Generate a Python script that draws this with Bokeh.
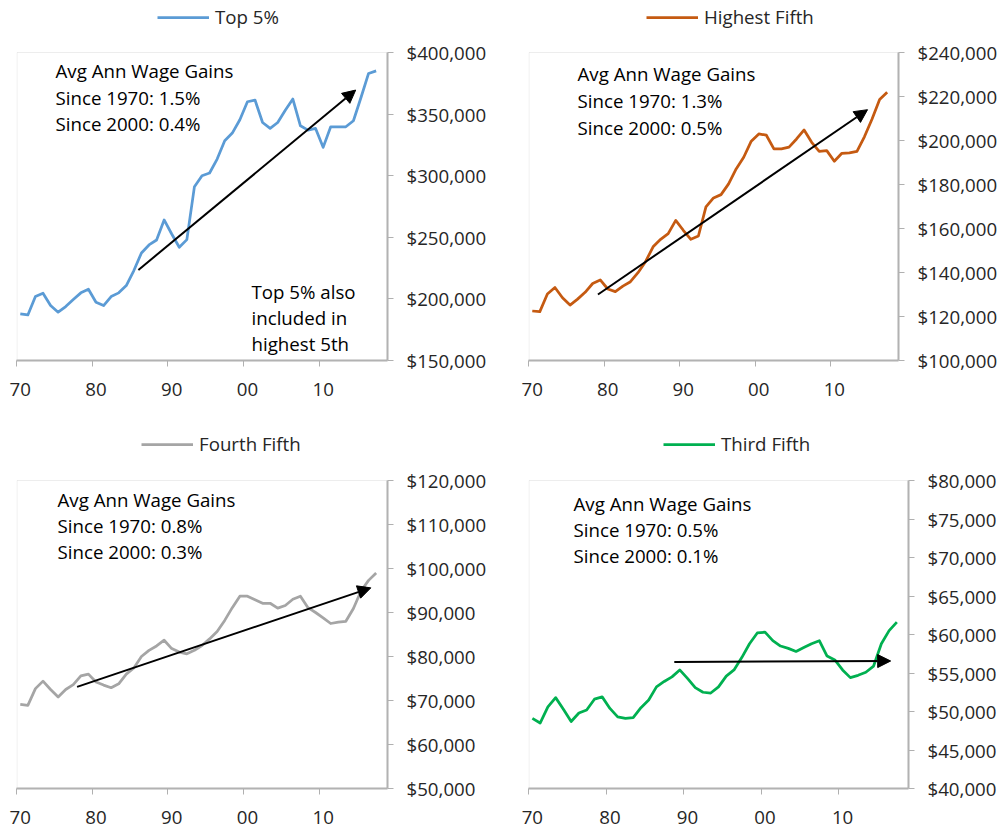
from bokeh.plotting import figure
from bokeh.layouts import column, row
from bokeh.models import (Range1d, FixedTicker, NumeralTickFormatter, Legend, LegendItem,
                          Label, Arrow, NormalHead, BoxAnnotation)
from bokeh.embed import file_html
from bokeh.resources import INLINE

# ---------------- data ----------------
years = list(range(1970, 2018))

top5 = [187800, 187000, 201900, 204600, 194600, 189200, 193800, 199500, 204900, 207800,
        197300, 194600, 201900, 204900, 210800, 223000, 237300, 243800, 247800, 264100,
        252700, 241900, 248100, 291100, 300000, 302200, 313500, 328400, 334600, 345400,
        360000, 361400, 343200, 338400, 343200, 353200, 362200, 340500, 337000, 338400,
        323000, 339700, 339700, 339700, 344600, 363500, 383000, 385100]

highest_fifth = [122500, 122200, 130200, 133200, 128500, 125200, 127900, 131000, 135000, 136600,
                 132500, 131300, 133800, 135800, 139900, 144900, 151700, 155100, 157700, 163700,
                 159200, 155100, 156600, 169800, 173900, 175400, 180300, 187100, 192400, 199700,
                 203000, 202400, 196200, 196200, 197000, 200700, 204800, 199200, 195100, 195400,
                 190600, 194200, 194400, 195100, 201800, 209800, 218600, 221900]

fourth_fifth = [69100, 68900, 72700, 74400, 72500, 70800, 72500, 73600, 75600, 76000,
                74200, 73500, 72900, 73800, 76000, 77400, 80000, 81400, 82400, 83700,
                81800, 81000, 80600, 81400, 82500, 84000, 85700, 88200, 91100, 93700,
                93700, 92900, 92100, 92100, 91000, 91600, 93000, 93700, 91100, 90000,
                88800, 87500, 87800, 88000, 90900, 94900, 97300, 99000]

third_fifth = [49100, 48500, 50600, 51800, 50300, 48700, 49800, 50200, 51600, 51900,
               50400, 49300, 49100, 49200, 50500, 51500, 53200, 53900, 54500, 55400,
               54300, 53100, 52500, 52400, 53200, 54600, 55400, 57000, 58800, 60200,
               60300, 59200, 58500, 58200, 57800, 58300, 58800, 59200, 57200, 56700,
               55400, 54400, 54700, 55100, 55900, 58800, 60500, 61600]

series_names = ["Top 5%", "Highest Fifth", "Fourth Fifth", "Third Fifth"]
series_colors = ["#5B9BD5", "#C55A11", "#A5A5A5", "#00B050"]
y_low = [150000, 100000, 50000, 40000]
y_high = [400000, 240000, 120000, 80000]
y_step = [50000, 20000, 10000, 5000]
gain_since_1970 = ["1.5%", "1.3%", "0.8%", "0.5%"]
gain_since_2000 = ["0.4%", "0.5%", "0.3%", "0.1%"]

# trend arrows (start -> tip), in data units
arrow_x0 = [1985.6, 1978.7, 1977.5, 1988.3]
arrow_y0 = [223500, 130000, 73100, 56430]
arrow_x1 = [2014.3, 2014.4, 2016.3, 2016.2]
arrow_y1 = [369500, 214000, 95600, 56560]

decade_ticks = [1970, 1980, 1990, 2000, 2010]
decade_labels = ["70", "80", "90", "00", "10"]
decade_bounds = [1969.5, 1979.5, 1989.5, 1999.5, 2009.5]

note_lines = ["Top 5% also", "included in", "highest 5th"]

FONT = "Open Sans"
FS = "18.7px"
TXT = "#262626"
AXC = "#B0B0B0"
PH = 308          # plot-area height in px


def make_panel(i, values, frame_w, b_left, b_right, head, b_bottom, leg_x, leg_cy, txt_x, txt_top):
    fh = PH + head
    span = y_high[i] - y_low[i]
    p = figure(frame_width=frame_w, frame_height=fh,
               min_border_left=b_left, min_border_right=b_right,
               min_border_top=0, min_border_bottom=b_bottom,
               x_range=Range1d(1969.5, 2018.5),
               y_range=Range1d(y_low[i], y_high[i] + span * head / PH),
               y_axis_location="right", toolbar_location=None,
               output_backend="svg")
    p.background_fill_color = "white"
    p.border_fill_color = "white"
    p.outline_line_color = None
    p.xgrid.visible = False
    p.ygrid.visible = False

    # plot-area border
    p.add_layout(BoxAnnotation(left=0.5, left_units="screen", right=2018.5,
                               bottom=y_low[i], top=y_high[i],
                               fill_alpha=0, line_color="#C4C4C4", line_width=1))

    # x axis
    xa = p.xaxis[0]
    xa.ticker = FixedTicker(ticks=decade_ticks, minor_ticks=decade_bounds)
    xa.major_label_overrides = {t: l for t, l in zip(decade_ticks, decade_labels)}
    xa.major_tick_line_color = None
    xa.minor_tick_in = 0
    xa.minor_tick_out = 6
    xa.minor_tick_line_color = AXC
    xa.minor_tick_line_width = 1
    xa.axis_line_color = AXC
    xa.axis_line_width = 2
    xa.major_label_standoff = 16
    xa.major_label_text_font = FONT
    xa.major_label_text_font_size = FS
    xa.major_label_text_color = TXT

    # y axis
    ya = p.yaxis[0]
    ya.bounds = (y_low[i], y_high[i])
    ya.ticker = FixedTicker(ticks=list(range(y_low[i], y_high[i] + 1, y_step[i])))
    ya.formatter = NumeralTickFormatter(format="$0,0")
    ya.minor_tick_line_color = None
    ya.major_tick_in = 0
    ya.major_tick_out = 6
    ya.major_tick_line_color = AXC
    ya.axis_line_color = AXC
    ya.axis_line_width = 2
    ya.major_label_standoff = 13
    ya.major_label_text_font = FONT
    ya.major_label_text_font_size = FS
    ya.major_label_text_color = TXT

    r = p.line(years, values, line_width=2.75, color=series_colors[i], line_join="round")

    leg = Legend(items=[LegendItem(label=series_names[i], renderers=[r])],
                 location=(leg_x, fh - leg_cy - 12), orientation="horizontal",
                 glyph_width=52, glyph_height=20, label_standoff=6,
                 padding=0, margin=0, border_line_color=None,
                 background_fill_alpha=0,
                 label_text_font=FONT, label_text_font_size=FS,
                 label_text_color=TXT)
    p.add_layout(leg, "center")

    lines = ["Avg Ann Wage Gains",
             "Since 1970: " + gain_since_1970[i],
             "Since 2000: " + gain_since_2000[i]]
    for k, t in enumerate(lines):
        p.add_layout(Label(x=txt_x, y=PH - txt_top[k], x_units="screen", y_units="screen",
                           text=t, text_font=FONT, text_font_size=FS, text_color="black",
                           text_baseline="middle", text_align="left"))

    p.add_layout(Arrow(end=NormalHead(size=13, fill_color="black", line_color="black"),
                       x_start=arrow_x0[i], y_start=arrow_y0[i],
                       x_end=arrow_x1[i], y_end=arrow_y1[i],
                       line_color="black", line_width=2))
    return p


p1 = make_panel(0, top5, 371, 16, 113, 52, 60, 141, 17, 39, [18, 45, 71])
for k, t in enumerate(note_lines):
    p1.add_layout(Label(x=235, y=PH - [239, 265, 291][k], x_units="screen", y_units="screen",
                        text=t, text_font=FONT, text_font_size=FS, text_color="black",
                        text_baseline="middle", text_align="left"))
p2 = make_panel(1, highest_fifth, 370, 28, 102, 52, 60, 118, 17, 49, [21, 48, 75])
p3 = make_panel(2, fourth_fifth, 371, 16, 113, 60, 48, 125, 24, 41, [19, 45, 71])
p4 = make_panel(3, third_fifth, 380, 28, 92, 60, 48, 135, 24, 45, [23, 49, 75])

layout = column(row(p1, p2), row(p3, p4))

open("out.html", "w").write(file_html(layout, INLINE))
